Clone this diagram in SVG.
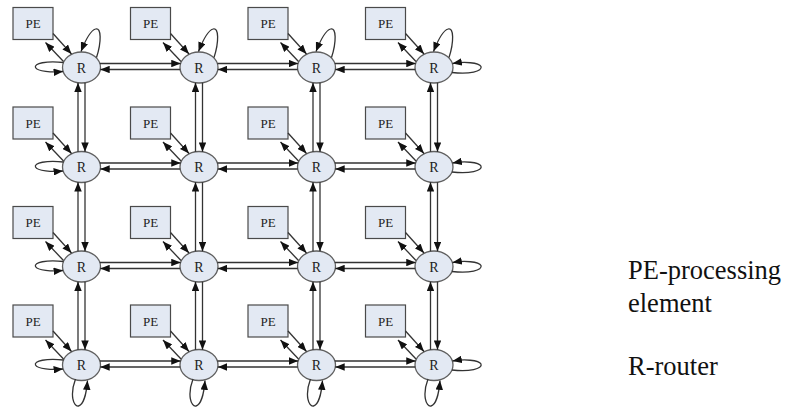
<svg xmlns="http://www.w3.org/2000/svg" width="785" height="407" viewBox="0 0 785 407" font-family="Liberation Serif, Tinos, Times New Roman, DejaVu Serif, serif">
  <style>
    .pe rect { fill: #e3e9f3; stroke: #4a4a4a; stroke-width: 1.2; }
    .pe text { font-size: 13px; fill: #222; text-anchor: middle; }
    .router ellipse { fill: #e3e9f3; stroke: #606060; stroke-width: 1.3; }
    .router text { font-size: 14px; fill: #222; text-anchor: middle; }
    #links line, #links path { fill: none; stroke: #333; stroke-width: 1.3; marker-end: url(#arrow); }
    .legend { font-size: 26.5px; fill: #111; }
  </style>
  <defs>
    <marker id="arrow" viewBox="0 0 10 8" refX="10" refY="4" markerWidth="9.5" markerHeight="7.5" orient="auto" markerUnits="userSpaceOnUse">
      <path d="M0,0 L10,4 L0,8 Z" fill="#111"/>
    </marker>
  </defs>

  <!-- processing elements -->
  <g id="pe-1-1" class="pe"><rect x="13" y="7.5" width="40" height="32"/><text x="33" y="28">PE</text></g>
  <g id="pe-1-2" class="pe"><rect x="130.5" y="7.5" width="40" height="32"/><text x="150.5" y="28">PE</text></g>
  <g id="pe-1-3" class="pe"><rect x="248" y="7.5" width="40" height="32"/><text x="268" y="28">PE</text></g>
  <g id="pe-1-4" class="pe"><rect x="365.5" y="7.5" width="40" height="32"/><text x="385.5" y="28">PE</text></g>
  <g id="pe-2-1" class="pe"><rect x="13" y="107" width="40" height="32"/><text x="33" y="127.5">PE</text></g>
  <g id="pe-2-2" class="pe"><rect x="130.5" y="107" width="40" height="32"/><text x="150.5" y="127.5">PE</text></g>
  <g id="pe-2-3" class="pe"><rect x="248" y="107" width="40" height="32"/><text x="268" y="127.5">PE</text></g>
  <g id="pe-2-4" class="pe"><rect x="365.5" y="107" width="40" height="32"/><text x="385.5" y="127.5">PE</text></g>
  <g id="pe-3-1" class="pe"><rect x="13" y="206.5" width="40" height="32"/><text x="33" y="227">PE</text></g>
  <g id="pe-3-2" class="pe"><rect x="130.5" y="206.5" width="40" height="32"/><text x="150.5" y="227">PE</text></g>
  <g id="pe-3-3" class="pe"><rect x="248" y="206.5" width="40" height="32"/><text x="268" y="227">PE</text></g>
  <g id="pe-3-4" class="pe"><rect x="365.5" y="206.5" width="40" height="32"/><text x="385.5" y="227">PE</text></g>
  <g id="pe-4-1" class="pe"><rect x="13" y="305" width="40" height="32"/><text x="33" y="325.5">PE</text></g>
  <g id="pe-4-2" class="pe"><rect x="130.5" y="305" width="40" height="32"/><text x="150.5" y="325.5">PE</text></g>
  <g id="pe-4-3" class="pe"><rect x="248" y="305" width="40" height="32"/><text x="268" y="325.5">PE</text></g>
  <g id="pe-4-4" class="pe"><rect x="365.5" y="305" width="40" height="32"/><text x="385.5" y="325.5">PE</text></g>

  <!-- routers -->
  <g id="r-1-1" class="router"><ellipse cx="81.5" cy="67.5" rx="19" ry="15.5"/><text x="81.5" y="72.5">R</text></g>
  <g id="r-1-2" class="router"><ellipse cx="199" cy="67.5" rx="19" ry="15.5"/><text x="199" y="72.5">R</text></g>
  <g id="r-1-3" class="router"><ellipse cx="316.5" cy="67.5" rx="19" ry="15.5"/><text x="316.5" y="72.5">R</text></g>
  <g id="r-1-4" class="router"><ellipse cx="434" cy="67.5" rx="19" ry="15.5"/><text x="434" y="72.5">R</text></g>
  <g id="r-2-1" class="router"><ellipse cx="81.5" cy="167" rx="19" ry="15.5"/><text x="81.5" y="172">R</text></g>
  <g id="r-2-2" class="router"><ellipse cx="199" cy="167" rx="19" ry="15.5"/><text x="199" y="172">R</text></g>
  <g id="r-2-3" class="router"><ellipse cx="316.5" cy="167" rx="19" ry="15.5"/><text x="316.5" y="172">R</text></g>
  <g id="r-2-4" class="router"><ellipse cx="434" cy="167" rx="19" ry="15.5"/><text x="434" y="172">R</text></g>
  <g id="r-3-1" class="router"><ellipse cx="81.5" cy="266.5" rx="19" ry="15.5"/><text x="81.5" y="271.5">R</text></g>
  <g id="r-3-2" class="router"><ellipse cx="199" cy="266.5" rx="19" ry="15.5"/><text x="199" y="271.5">R</text></g>
  <g id="r-3-3" class="router"><ellipse cx="316.5" cy="266.5" rx="19" ry="15.5"/><text x="316.5" y="271.5">R</text></g>
  <g id="r-3-4" class="router"><ellipse cx="434" cy="266.5" rx="19" ry="15.5"/><text x="434" y="271.5">R</text></g>
  <g id="r-4-1" class="router"><ellipse cx="81.5" cy="365" rx="19" ry="15.5"/><text x="81.5" y="370">R</text></g>
  <g id="r-4-2" class="router"><ellipse cx="199" cy="365" rx="19" ry="15.5"/><text x="199" y="370">R</text></g>
  <g id="r-4-3" class="router"><ellipse cx="316.5" cy="365" rx="19" ry="15.5"/><text x="316.5" y="370">R</text></g>
  <g id="r-4-4" class="router"><ellipse cx="434" cy="365" rx="19" ry="15.5"/><text x="434" y="370">R</text></g>

  <g id="links">
    <!-- PE to router and router to PE -->
    <line x1="53" y1="33.5" x2="71.5" y2="54"/><line x1="63.5" y1="61.5" x2="45.5" y2="42.5"/>
    <line x1="170.5" y1="33.5" x2="189" y2="54"/><line x1="181" y1="61.5" x2="163" y2="42.5"/>
    <line x1="288" y1="33.5" x2="306.5" y2="54"/><line x1="298.5" y1="61.5" x2="280.5" y2="42.5"/>
    <line x1="405.5" y1="33.5" x2="424" y2="54"/><line x1="416" y1="61.5" x2="398" y2="42.5"/>
    <line x1="53" y1="133" x2="71.5" y2="153.5"/><line x1="63.5" y1="161" x2="45.5" y2="142"/>
    <line x1="170.5" y1="133" x2="189" y2="153.5"/><line x1="181" y1="161" x2="163" y2="142"/>
    <line x1="288" y1="133" x2="306.5" y2="153.5"/><line x1="298.5" y1="161" x2="280.5" y2="142"/>
    <line x1="405.5" y1="133" x2="424" y2="153.5"/><line x1="416" y1="161" x2="398" y2="142"/>
    <line x1="53" y1="232.5" x2="71.5" y2="253"/><line x1="63.5" y1="260.5" x2="45.5" y2="241.5"/>
    <line x1="170.5" y1="232.5" x2="189" y2="253"/><line x1="181" y1="260.5" x2="163" y2="241.5"/>
    <line x1="288" y1="232.5" x2="306.5" y2="253"/><line x1="298.5" y1="260.5" x2="280.5" y2="241.5"/>
    <line x1="405.5" y1="232.5" x2="424" y2="253"/><line x1="416" y1="260.5" x2="398" y2="241.5"/>
    <line x1="53" y1="331" x2="71.5" y2="351.5"/><line x1="63.5" y1="359" x2="45.5" y2="340"/>
    <line x1="170.5" y1="331" x2="189" y2="351.5"/><line x1="181" y1="359" x2="163" y2="340"/>
    <line x1="288" y1="331" x2="306.5" y2="351.5"/><line x1="298.5" y1="359" x2="280.5" y2="340"/>
    <line x1="405.5" y1="331" x2="424" y2="351.5"/><line x1="416" y1="359" x2="398" y2="340"/>

    <!-- horizontal router links: eastbound above, westbound below -->
    <line x1="99.9" y1="63.5" x2="180.6" y2="63.5"/><line x1="180.2" y1="69.5" x2="100.3" y2="69.5"/>
    <line x1="217.4" y1="63.5" x2="298.1" y2="63.5"/><line x1="297.7" y1="69.5" x2="217.8" y2="69.5"/>
    <line x1="334.9" y1="63.5" x2="415.6" y2="63.5"/><line x1="415.2" y1="69.5" x2="335.3" y2="69.5"/>
    <line x1="99.9" y1="163" x2="180.6" y2="163"/><line x1="180.2" y1="169" x2="100.3" y2="169"/>
    <line x1="217.4" y1="163" x2="298.1" y2="163"/><line x1="297.7" y1="169" x2="217.8" y2="169"/>
    <line x1="334.9" y1="163" x2="415.6" y2="163"/><line x1="415.2" y1="169" x2="335.3" y2="169"/>
    <line x1="99.9" y1="262.5" x2="180.6" y2="262.5"/><line x1="180.2" y1="268.5" x2="100.3" y2="268.5"/>
    <line x1="217.4" y1="262.5" x2="298.1" y2="262.5"/><line x1="297.7" y1="268.5" x2="217.8" y2="268.5"/>
    <line x1="334.9" y1="262.5" x2="415.6" y2="262.5"/><line x1="415.2" y1="268.5" x2="335.3" y2="268.5"/>
    <line x1="99.9" y1="361" x2="180.6" y2="361"/><line x1="180.2" y1="367" x2="100.3" y2="367"/>
    <line x1="217.4" y1="361" x2="298.1" y2="361"/><line x1="297.7" y1="367" x2="217.8" y2="367"/>
    <line x1="334.9" y1="361" x2="415.6" y2="361"/><line x1="415.2" y1="367" x2="335.3" y2="367"/>

    <!-- vertical router links: northbound on the left, southbound on the right -->
    <line x1="78" y1="151.8" x2="78" y2="82.7"/><line x1="85" y1="82.7" x2="85" y2="151.8"/>
    <line x1="78" y1="251.3" x2="78" y2="182.2"/><line x1="85" y1="182.2" x2="85" y2="251.3"/>
    <line x1="78" y1="349.8" x2="78" y2="281.7"/><line x1="85" y1="281.7" x2="85" y2="349.8"/>
    <line x1="195.5" y1="151.8" x2="195.5" y2="82.7"/><line x1="202.5" y1="82.7" x2="202.5" y2="151.8"/>
    <line x1="195.5" y1="251.3" x2="195.5" y2="182.2"/><line x1="202.5" y1="182.2" x2="202.5" y2="251.3"/>
    <line x1="195.5" y1="349.8" x2="195.5" y2="281.7"/><line x1="202.5" y1="281.7" x2="202.5" y2="349.8"/>
    <line x1="313" y1="151.8" x2="313" y2="82.7"/><line x1="320" y1="82.7" x2="320" y2="151.8"/>
    <line x1="313" y1="251.3" x2="313" y2="182.2"/><line x1="320" y1="182.2" x2="320" y2="251.3"/>
    <line x1="313" y1="349.8" x2="313" y2="281.7"/><line x1="320" y1="281.7" x2="320" y2="349.8"/>
    <line x1="430.5" y1="151.8" x2="430.5" y2="82.7"/><line x1="437.5" y1="82.7" x2="437.5" y2="151.8"/>
    <line x1="430.5" y1="251.3" x2="430.5" y2="182.2"/><line x1="437.5" y1="182.2" x2="437.5" y2="251.3"/>
    <line x1="430.5" y1="349.8" x2="430.5" y2="281.7"/><line x1="437.5" y1="281.7" x2="437.5" y2="349.8"/>

    <!-- self loops on the mesh border -->
    <path d="M96.5,57.5 C101.5,42 101.5,27 95.5,29 C90.5,30.5 85.5,40 81,51.5"/>
    <path d="M214,57.5 C219,42 219,27 213,29 C208,30.5 203,40 198.5,51.5"/>
    <path d="M331.5,57.5 C336.5,42 336.5,27 330.5,29 C325.5,30.5 320.5,40 316,51.5"/>
    <path d="M449,57.5 C454,42 454,27 448,29 C443,30.5 438,40 433.5,51.5"/>

    <path d="M75.5,379 C69.5,395 73.5,407 78.5,406 C83.5,405 86.5,393 87.5,380.5"/>
    <path d="M193,379 C187,395 191,407 196,406 C201,405 204,393 205,380.5"/>
    <path d="M310.5,379 C304.5,395 308.5,407 313.5,406 C318.5,405 321.5,393 322.5,380.5"/>
    <path d="M428,379 C422,395 426,407 431,406 C436,405 439,393 440,380.5"/>

    <path d="M63.5,62.5 C46.5,60.5 33.5,63.5 35.5,67.5 C37.5,71.5 51.5,72.5 63,71.5"/>
    <path d="M63.5,162 C46.5,160 33.5,163 35.5,167 C37.5,171 51.5,172 63,171"/>
    <path d="M63.5,261.5 C46.5,259.5 33.5,262.5 35.5,266.5 C37.5,270.5 51.5,271.5 63,270.5"/>
    <path d="M63.5,360 C46.5,358 33.5,361 35.5,365 C37.5,369 51.5,370 63,369"/>

    <path d="M452,72.5 C469,74.5 483,71.5 481,66.5 C479,62.5 464,61.5 452.5,63.5"/>
    <path d="M452,172 C469,174 483,171 481,166 C479,162 464,161 452.5,163"/>
    <path d="M452,271.5 C469,273.5 483,270.5 481,265.5 C479,261.5 464,260.5 452.5,262.5"/>
    <path d="M452,370 C469,372 483,369 481,364 C479,360 464,359 452.5,361"/>
  </g>

  <g id="legend">
    <text class="legend" x="628" y="279">PE-processing</text>
    <text class="legend" x="628" y="312">element</text>
    <text class="legend" x="628" y="375">R-router</text>
  </g>
</svg>
